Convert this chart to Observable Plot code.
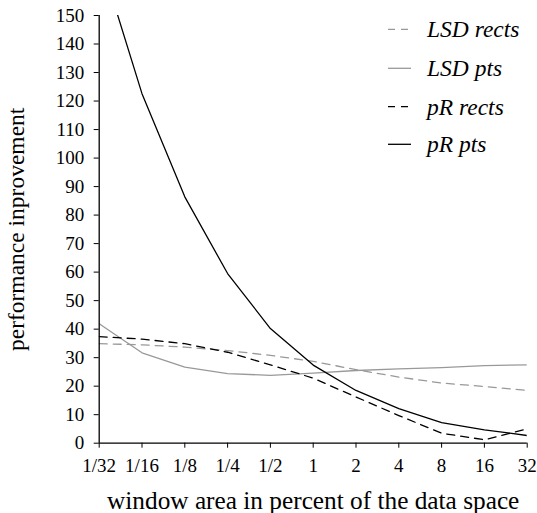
<!DOCTYPE html>
<html>
<head>
<meta charset="utf-8">
<script src="https://cdn.jsdelivr.net/npm/d3@7"></script>
<script src="https://cdn.jsdelivr.net/npm/@observablehq/plot@0.6"></script>
<style>
  html, body { margin: 0; padding: 0; background: #fff; }
  #chart svg { display: block; }
  #chart svg text { font-family: 'Liberation Serif', 'Times New Roman', serif !important; font-variant: normal !important; }
</style>
</head>
<body>
<div id="chart"></div>
<script>
// window area (percent of the data space), log2-spaced
const xValues = [1/32, 1/16, 1/8, 1/4, 1/2, 1, 2, 4, 8, 16, 32];
const xLabels = ["1/32", "1/16", "1/8", "1/4", "1/2", "1", "2", "4", "8", "16", "32"];
const yTicks = [0, 10, 20, 30, 40, 50, 60, 70, 80, 90, 100, 110, 120, 130, 140, 150];

const seriesNames = ["LSD rects", "LSD pts", "pR rects", "pR pts"];
const lsdRects = [34.9, 34.5, 33.7, 32.5, 30.8, 28.7, 25.8, 23.2, 21.1, 19.9, 18.5];
const lsdPts   = [41.9, 31.7, 26.7, 24.4, 23.8, 24.6, 25.5, 26.1, 26.5, 27.2, 27.5];
const pRRects  = [37.4, 36.5, 34.9, 31.9, 27.5, 22.8, 16.2, 9.7, 3.5, 1.2, 5.0];
const pRPts    = [171, 122.6, 86.4, 59.5, 40.2, 27.4, 18.5, 12.1, 7.2, 4.7, 2.7];

const xTitle = "window area in percent of the data space";
const yTitle = "performance inprovement";

const styles = {
  "LSD rects": {stroke: "#999999", dash: "8,6"},
  "LSD pts":   {stroke: "#999999", dash: null},
  "pR rects":  {stroke: "#000000", dash: "8,6"},
  "pR pts":    {stroke: "#000000", dash: null}
};
const seriesValues = [lsdRects, lsdPts, pRRects, pRPts];

const rows = [];
seriesNames.forEach((name, i) => {
  xValues.forEach((x, j) => rows.push({series: name, x, y: seriesValues[i][j]}));
});

const labelOf = new Map(xValues.map((v, i) => [v, xLabels[i]]));
const FONT = "'Liberation Serif', 'Times New Roman', serif";

const W = 537, H = 513;
const mL = 98.7, mR = 10.3, mT = 15, mB = 70.3;

const lineMarks = seriesNames.map(name => Plot.line(rows.filter(r => r.series === name), {
  x: "x", y: "y",
  stroke: styles[name].stroke,
  strokeWidth: 1.3,
  strokeDasharray: styles[name].dash,
  clip: true
}));

const chart = Plot.plot({
  width: W, height: H,
  marginLeft: mL, marginRight: mR, marginTop: mT, marginBottom: mB,
  style: {fontFamily: FONT, background: "#fff", color: "#000"},
  x: {type: "log", base: 2, domain: [1/32, 32]},
  y: {domain: [0, 150]},
  marks: [
    ...lineMarks,
    Plot.axisY({ticks: yTicks, tickSize: 5, tickPadding: 10, fontSize: 19, fontFamily: FONT, label: null, stroke: "#000", strokeOpacity: 1}),
    Plot.axisX({ticks: xValues, tickFormat: d => labelOf.get(d), tickSize: 5, tickPadding: 10, fontSize: 19, fontFamily: FONT, label: null, stroke: "#000", strokeOpacity: 1}),
    Plot.ruleY([0], {stroke: "#000", strokeWidth: 1.3}),
    Plot.ruleX([1/32], {stroke: "#000", strokeWidth: 1.3}),
    Plot.text([xTitle], {frameAnchor: "bottom", text: d => d, dy: 65.5, lineAnchor: "bottom", textAnchor: "middle", fontSize: 25.3, fontFamily: FONT, fill: "#000"}),
    Plot.text([yTitle], {frameAnchor: "left", text: d => d, dx: -75.5, rotate: -90, lineAnchor: "bottom", textAnchor: "middle", fontSize: 23.5, fontFamily: FONT, fill: "#000"})
  ]
});

document.getElementById("chart").appendChild(chart);

// force the serif face on every text, including the axis tick labels
d3.select(chart).selectAll("text, g")
  .style("font-family", FONT)
  .style("font-variant", "normal");

// legend (inside the plot, top right)
const svg = d3.select(chart);
const lg = svg.append("g").attr("class", "legend").attr("text-anchor", "start");
const rowY = [29.3, 68.3, 106.7, 144.3];
seriesNames.forEach((name, i) => {
  const y = rowY[i];
  lg.append("line")
    .attr("x1", 388).attr("x2", 411).attr("y1", y).attr("y2", y)
    .attr("stroke", styles[name].stroke)
    .attr("stroke-width", 1.3)
    .attr("stroke-dasharray", styles[name].dash ? "7,6" : null);
  lg.append("text")
    .attr("x", 427).attr("y", y + 8)
    .attr("text-anchor", "start")
    .style("font-family", FONT)
    .attr("font-style", "italic")
    .attr("font-size", 23.5)
    .attr("fill", "#000")
    .text(name);
});
</script>
</body>
</html>
